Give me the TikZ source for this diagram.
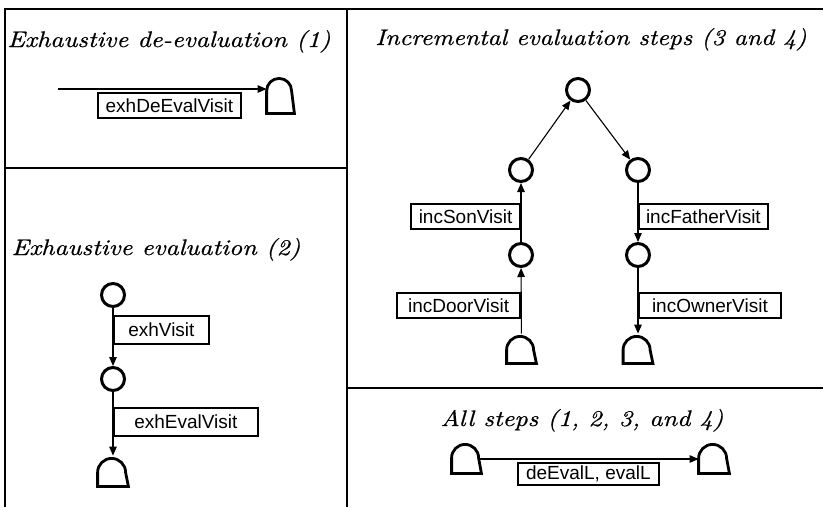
\documentclass[tikz,border=0pt]{standalone}
\usepackage{fontspec}
\newfontfamily\lblfont{Liberation Sans}
\newfontfamily\titlefont{lmroman10-italic.otf}[FakeBold=0.6]
\usetikzlibrary{arrows.meta}
\newcommand\doornode[5]{%
  \node[doorbox, minimum width=#4pt, minimum height=#5pt] (#1) at (#2,#3) {};
  \draw[doorline] (#1.south west) -- ++(0pt,{#5pt-#4pt/2}) arc[start angle=180,end angle=0,radius=#4pt/2] -- (#1.south east) -- cycle;}
\begin{document}
\begin{tikzpicture}[x=1pt,y=-1pt,
  frame/.style={line width=1.8pt},
  state/.style={circle, draw, line width=3pt, minimum size=23pt, inner sep=0pt},
  doorbox/.style={inner sep=0pt, outer sep=1.4pt},
  doorline/.style={line width=2.8pt, line join=miter},
  conn/.style={line width=1.1pt, -{Triangle[length=9pt,width=7.5pt]}},
  lbl/.style={draw, line width=1.8pt, font=\lblfont\fontsize{19}{22}\selectfont, inner sep=0pt, minimum height=25pt},
  title/.style={inner sep=0pt, font=\titlefont\fontsize{22.5}{27}\selectfont}]
\useasboundingbox (0,0) rectangle (825,507);
% frame
\coordinate (tl) at (5,9);
\coordinate (tr) at (823,9);
\coordinate (bl) at (5,507);
\coordinate (vt) at (347,9);
\coordinate (vb) at (347,507);
\coordinate (hl) at (5,168);
\coordinate (hm) at (347,168);
\coordinate (rl) at (347,388);
\coordinate (rr) at (823,388);
\draw[frame] (bl) -- (tl) -- (tr);
\draw[frame] (vt) -- (vb);
\draw[frame] (hl) -- (hm);
\draw[frame] (rl) -- (rr);
% titles
\node[title, anchor=base] (t1) at (169,47) {\scalebox{1.15}[1]{Exhaustive de-evaluation (1)}};
\node[title, anchor=base] (t2) at (156,255) {\scalebox{1.15}[1]{Exhaustive evaluation (2)}};
\node[title, anchor=base] (t3) at (591,45) {\scalebox{1.13}[1]{Incremental evaluation steps (3 and 4)}};
\node[title, anchor=base] (t4) at (582,426) {\scalebox{1.15}[1]{All steps (1, 2, 3, and 4)}};
% panel 1
\coordinate (s1) at (58,89);
\doornode{d1}{280.5}{94.5}{25}{35}
\draw[conn] (s1) -- (d1.west |- s1);
\node[lbl, anchor=north west, minimum width=143pt] (b1) at (97,92) {exhDeEvalVisit};
% panel 2
\node[state] (c1) at (113,295) {};
\node[state] (c2) at (113,379) {};
\doornode{d2}{113}{471}{28}{28}
\draw[conn] (c1) -- (c2);
\draw[conn] (c2) -- (d2);
\node[lbl, anchor=north west, minimum width=95pt, minimum height=28pt] (b2) at (113,315) {exhVisit};
\node[lbl, anchor=north west, minimum width=144pt, minimum height=28pt] (b3) at (113,407) {exhEvalVisit};
% panel 3
\node[state] (ct) at (578,90) {};
\node[state] (cl1) at (521,170) {};
\node[state] (cr1) at (638,170) {};
\node[state] (cl2) at (521,255) {};
\node[state] (cr2) at (638,255) {};
\doornode{dl}{521.5}{348.5}{27}{27}
\doornode{dr}{638}{348.5}{27}{27}
\draw[conn] (dl) -- (cl2);
\draw[conn] (cl2) -- (cl1);
\draw[conn] (cl1) -- (ct);
\draw[conn] (ct) -- (cr1);
\draw[conn] (cr1) -- (cr2);
\draw[conn] (cr2) -- (dr);
\node[lbl, anchor=north east, minimum width=109pt] (b4) at (521,203) {incSonVisit};
\node[lbl, anchor=north east, minimum width=123pt] (b5) at (521,292) {incDoorVisit};
\node[lbl, anchor=north west, minimum width=129pt] (b6) at (638,203) {incFatherVisit};
\node[lbl, anchor=north west, minimum width=142pt] (b7) at (638,292) {incOwnerVisit};
% panel 4
\doornode{da}{466.5}{457.5}{27}{29}
\doornode{db}{714}{457.5}{28}{29}
\coordinate (s4) at (480,459);
\draw[conn] (s4) -- (db.west |- s4);
\node[lbl, anchor=north west, minimum width=141pt, minimum height=22pt] (b8) at (517,462) {deEvalL, evalL};
\end{tikzpicture}
\end{document}
